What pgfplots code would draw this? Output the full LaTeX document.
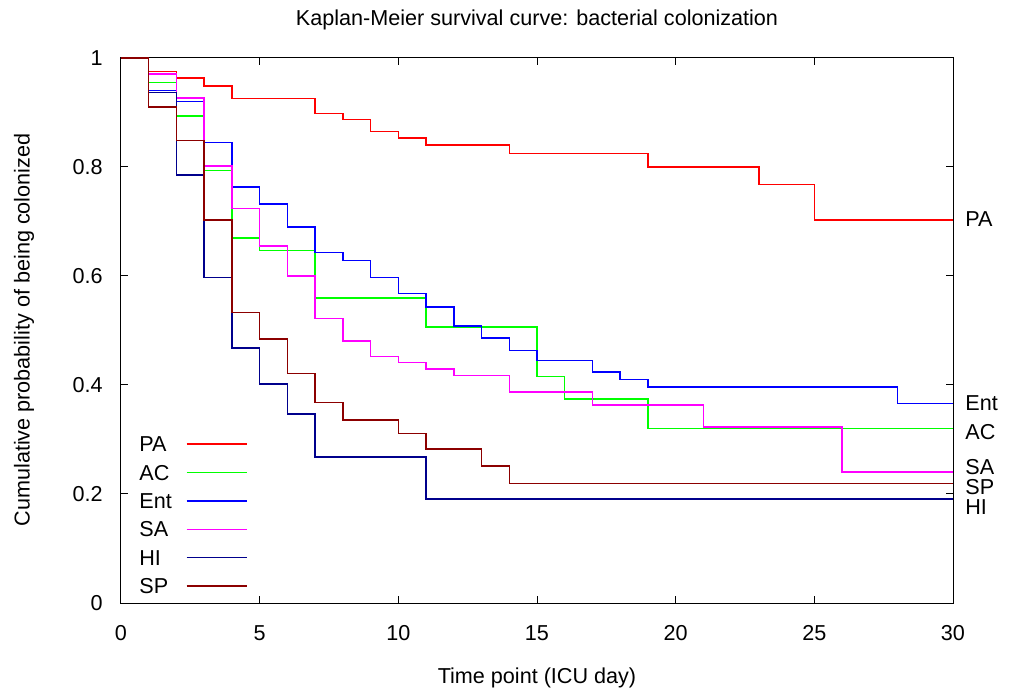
\documentclass[border=0pt]{standalone}
\usepackage{fontspec}
\setmainfont{Liberation Sans}
\usepackage{pgfplots}
\pgfplotsset{compat=1.18}
\newcommand\f{\fontsize{10.8}{13}\selectfont}
\definecolor{cPA}{RGB}{255,0,0}
\definecolor{cAC}{RGB}{0,255,0}
\definecolor{cEnt}{RGB}{0,0,255}
\definecolor{cSA}{RGB}{255,0,255}
\definecolor{cHI}{RGB}{0,0,140}
\definecolor{cSP}{RGB}{140,0,0}
\begin{document}
\f
\begin{tikzpicture}
\begin{axis}[
  scale only axis, width=416pt, height=272.5pt,
  xmin=0, xmax=30, ymin=0, ymax=1,
  xtick={0,5,10,15,20,25,30},
  ytick={0,0.2,0.4,0.6,0.8,1},
  yticklabels={0,0.2,0.4,0.6,0.8,1},
  /pgf/number format/assume math mode=true,
  tick label style={font=\f},
  yticklabel style={xshift=-5.4pt},
  xticklabel style={yshift=-7.5pt},
  axis line style={line width=0.5pt},
  major tick length=3.5pt,
  every tick/.style={black, line width=0.5pt},
  title={Kaplan-Meier survival curve: bacterial colonization},
  every axis title shift=0pt,
  title style={at={(axis description cs:0.5,1.0698)}, anchor=center, font=\f},
  xlabel={Time point (ICU day)},
  xlabel style={at={(axis description cs:0.5,-0.1376)}, anchor=center, font=\f},
  ylabel={Cumulative probability of being colonized},
  ylabel style={at={(axis description cs:-0.1166,0.501)}, anchor=center, font=\f},
  clip=false,
  legend plot pos=right,
  legend cell align=left,
  legend style={draw=none, fill=none, at={(axis description cs:0.0144,0.3138)}, anchor=north west,
    row sep=6.5pt, column sep=7pt,
    nodes={inner sep=0pt, text height=7.7pt, text depth=0pt, font=\f}},
  legend image code/.code={\draw[#1] (0pt,0pt) -- (30pt,0pt);},
  every axis plot/.append style={line width=0.75pt, const plot, mark=none},
]
\addplot[cPA] coordinates {(0,1) (1,0.975) (2,0.963) (3,0.949) (4,0.926) (7,0.898) (8,0.887) (9,0.865) (10,0.853) (11,0.840) (14,0.825) (19,0.800) (23,0.768) (25,0.703) (30,0.703)};
\addlegendentry{PA}
\addplot[cAC] coordinates {(0,1) (1,0.955) (2,0.894) (3,0.794) (4,0.670) (5,0.647) (7,0.560) (11,0.506) (15,0.416) (16,0.374) (19,0.320) (30,0.320)};
\addlegendentry{AC}
\addplot[cEnt] coordinates {(0,1) (1,0.940) (2,0.920) (3,0.845) (4,0.763) (5,0.732) (6,0.690) (7,0.643) (8,0.628) (9,0.597) (10,0.568) (11,0.543) (12,0.508) (13,0.486) (14,0.463) (15,0.445) (17,0.424) (18,0.410) (19,0.396) (28,0.366) (30,0.366)};
\addlegendentry{Ent}
\addplot[cSA] coordinates {(0,1) (1,0.971) (2,0.927) (3,0.802) (4,0.724) (5,0.655) (6,0.600) (7,0.522) (8,0.481) (9,0.452) (10,0.441) (11,0.429) (12,0.417) (14,0.387) (17,0.363) (21,0.323) (26,0.240) (30,0.240)};
\addlegendentry{SA}
\addplot[cHI] coordinates {(0,1) (1,0.937) (2,0.785) (3,0.597) (4,0.468) (5,0.402) (6,0.347) (7,0.268) (11,0.191) (30,0.191)};
\addlegendentry{HI}
\addplot[cSP] coordinates {(0,1) (1,0.910) (2,0.849) (3,0.703) (4,0.533) (5,0.484) (6,0.421) (7,0.368) (8,0.336) (10,0.311) (11,0.283) (13,0.251) (14,0.219) (30,0.219)};
\addlegendentry{SP}
\node[anchor=west, inner sep=0pt, xshift=6pt, font=\f] at (axis cs:30,0.705) {PA};
\node[anchor=west, inner sep=0pt, xshift=6pt, font=\f] at (axis cs:30,0.367) {Ent};
\node[anchor=west, inner sep=0pt, xshift=6pt, font=\f] at (axis cs:30,0.314) {AC};
\node[anchor=west, inner sep=0pt, xshift=6pt, font=\f] at (axis cs:30,0.2495) {SA};
\node[anchor=west, inner sep=0pt, xshift=6pt, font=\f] at (axis cs:30,0.2128) {SP};
\node[anchor=west, inner sep=0pt, xshift=6pt, font=\f] at (axis cs:30,0.176) {HI};
\end{axis}
\pgfresetboundingbox
\path (-60.5pt,-44pt) rectangle (446pt,301.5pt);
\end{tikzpicture}
\end{document}
